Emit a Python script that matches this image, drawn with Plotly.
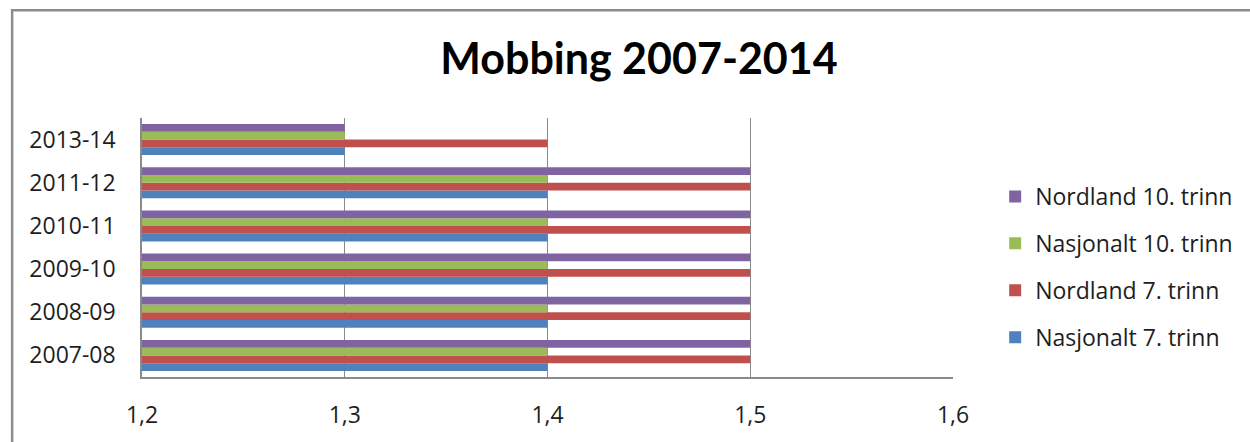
import plotly.graph_objects as go

categories = ["2007-08", "2008-09", "2009-10", "2010-11", "2011-12", "2013-14"]
series_names = ["Nasjonalt 7. trinn", "Nordland 7. trinn", "Nasjonalt 10. trinn", "Nordland 10. trinn"]
nasjonalt_7 = [1.4, 1.4, 1.4, 1.4, 1.4, 1.3]
nordland_7 = [1.5, 1.5, 1.5, 1.5, 1.5, 1.4]
nasjonalt_10 = [1.4, 1.4, 1.4, 1.4, 1.4, 1.3]
nordland_10 = [1.5, 1.5, 1.5, 1.5, 1.5, 1.3]
x_ticks = [1.2, 1.3, 1.4, 1.5, 1.6]

colors = ["#4F81BD", "#C0504D", "#9BBB59", "#8064A2"]
values = [nasjonalt_7, nordland_7, nasjonalt_10, nordland_10]
ranks = [4, 3, 2, 1]

fig = go.Figure()
for name, vals, col, rk in zip(series_names, values, colors, ranks):
    fig.add_trace(go.Bar(
        y=categories, x=vals, name=name, orientation="h",
        marker=dict(color=col, line=dict(width=0)),
        legendgroup=name, legendrank=rk,
    ))

W, H = 1250, 442
L, R, T, B = 142, 957, 118, 379  # plot area edges in pixels
grid = "#8a8a8a"
txt = "#1e1e1e"
fig.update_layout(
    width=W, height=H,
    margin=dict(l=L, r=W - R, t=T, b=H - B),
    paper_bgcolor="white", plot_bgcolor="white",
    barmode="group", bargap=0.28, bargroupgap=0,
    separators=",.",
    title=dict(text="<b>Mobbing 2007-2014</b>", x=639 / W, xref="container",
               y=1 - 59 / H, yref="container", xanchor="center", yanchor="middle",
               font=dict(family="Lato", size=43, color="#000000")),
    xaxis=dict(range=[1.2, 1.6], tickvals=x_ticks, tickformat=".1f",
               showgrid=True, gridcolor=grid, gridwidth=1,
               showline=True, linecolor=grid, linewidth=1.5,
               zeroline=False, ticks="", ticklabelstandoff=17,
               tickfont=dict(family="Open Sans", size=23, color=txt)),
    yaxis=dict(type="category", categoryorder="array", categoryarray=categories,
               showgrid=False, showline=True, linecolor=grid, linewidth=1.5,
               ticks="", ticklabelstandoff=20,
               tickfont=dict(family="Open Sans", size=23, color=txt)),
    legend=dict(x=1.052, y=0.78, xanchor="left", yanchor="top",
                traceorder="grouped", tracegroupgap=14,
                font=dict(family="Open Sans", size=23, color=txt),
                itemwidth=30, bgcolor="rgba(0,0,0,0)"),
    shapes=[dict(type="rect", xref="paper", yref="paper",
                 x0=(11.5 - L) / (R - L), x1=2.0, y0=-1.0, y1=(B - 9.5) / (B - T),
                 line=dict(color="#8c8c8c", width=2.5), layer="below")],
)

fig.write_html(
    "out.html",
    config={"displayModeBar": False},
    post_script="document.body.style.margin='0';document.body.style.overflow='hidden';",
)
